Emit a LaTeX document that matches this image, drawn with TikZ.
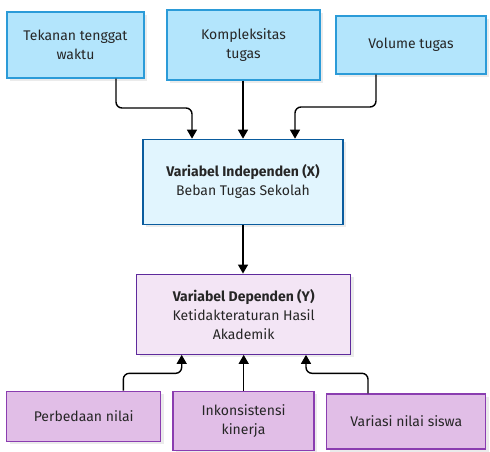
\documentclass[tikz,border=0pt]{standalone}
\usepackage{fontspec}
\setmainfont{Fira Sans}
\usetikzlibrary{arrows.meta,shadows}
\definecolor{topfill}{HTML}{B3E5FC}
\definecolor{topdraw}{HTML}{2B9BD8}
\definecolor{xfill}{HTML}{E1F5FE}
\definecolor{xdraw}{HTML}{0A5C9E}
\definecolor{yfill}{HTML}{F3E5F5}
\definecolor{ydraw}{HTML}{5E2A9C}
\definecolor{botfill}{HTML}{E1BEE7}
\definecolor{botdraw}{HTML}{8A3DB0}
\tikzset{
  box/.style={rectangle, line width=1.3pt, align=center, inner sep=0pt,
    font=\fontsize{14}{19}\selectfont, text=black!85,
    drop shadow={shadow xshift=3pt, shadow yshift=-3pt, fill=black!8, opacity=1}},
  topbox/.style={box, fill=topfill, draw=topdraw},
  xbox/.style={box, fill=xfill, draw=xdraw},
  ybox/.style={box, fill=yfill, draw=ydraw},
  botbox/.style={box, fill=botfill, draw=botdraw},
  arr/.style={line width=1.4pt, rounded corners=6pt, -{Triangle[length=9pt,width=10pt]}},
}
\begin{document}
\begin{tikzpicture}[x=1pt,y=-1pt]
\useasboundingbox (0,0) rectangle (490,451);
\node[topbox, minimum width=137pt, minimum height=66pt] (t1) at (75.5,45) {Tekanan tenggat\\waktu};
\node[topbox, minimum width=153pt, minimum height=70pt] (t2) at (243.5,45) {Kompleksitas\\tugas};
\node[topbox, minimum width=150pt, minimum height=58pt] (t3) at (411,45) {Volume tugas};
\node[xbox, minimum width=200pt, minimum height=85pt] (x) at (243,181.8) {\textbf{Variabel Independen (X)}\\Beban Tugas Sekolah};
\node[ybox, minimum width=214pt, minimum height=80pt] (y) at (243.7,314.2) {\textbf{Variabel Dependen (Y)}\\Ketidakteraturan Hasil\\Akademik};
\node[botbox, minimum width=154pt, minimum height=50pt] (b1) at (83.7,416.2) {Perbedaan nilai};
\node[botbox, minimum width=141pt, minimum height=59pt] (b2) at (243.5,420.7) {Inkonsistensi\\kinerja};
\node[botbox, minimum width=159pt, minimum height=55pt] (b3) at (406.3,421.5) {Variasi nilai siswa};
\coordinate (k1) at (116,0);
\coordinate (e1) at (192,108);
\coordinate (k3) at (376,0);
\coordinate (e3) at (295,107);
\coordinate (k4) at (123.3,0);
\coordinate (e4) at (181.7,373.3);
\coordinate (k6) at (368,0);
\coordinate (e6) at (306,373.3);
\draw[arr] (t1.south -| k1) -- (k1 |- e1) -- (e1) -- (x.north -| e1);
\draw[arr] (t2.south -| x.north) -- (x.north);
\draw[arr] (t3.south -| k3) -- (k3 |- e3) -- (e3) -- (x.north -| e3);
\draw[arr] (x.south) -- (y.north -| x.south);
\draw[arr] (b1.north -| k4) -- (k4 |- e4) -- (e4) -- (y.south -| e4);
\draw[arr] (b2.north -| y.south) -- (y.south);
\draw[arr] (b3.north -| k6) -- (k6 |- e6) -- (e6) -- (y.south -| e6);
\end{tikzpicture}
\end{document}
